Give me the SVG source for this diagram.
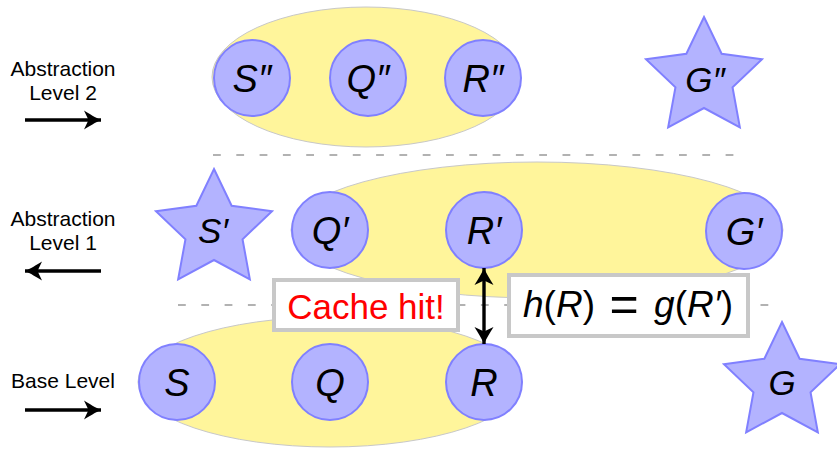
<svg xmlns="http://www.w3.org/2000/svg" width="837" height="449" viewBox="0 0 837 449">
<style>
.grp{fill:#fff59b;stroke:#c8c8c8;stroke-width:1}
.nd{fill:#b3b3ff;stroke:#8080ff;stroke-width:2}
.lbl{font-family:"Liberation Sans",Arial,sans-serif;font-style:italic;font-size:38px;fill:#000;text-anchor:middle}
.slbl{font-family:"Liberation Sans",Arial,sans-serif;font-style:italic;font-size:35px;fill:#000;text-anchor:middle}
.side{font-family:"Liberation Sans",Arial,sans-serif;font-size:21px;fill:#000;text-anchor:middle}
.dash{stroke:#999;stroke-width:1.3;stroke-dasharray:7.8 15.5;fill:none}
.arr{stroke:#000;stroke-width:3.4;fill:none}
.box{fill:#fff;stroke:#c8c8c8;stroke-width:4}
.math{font-family:"Liberation Sans",Arial,sans-serif;font-size:37px;fill:#000}
</style>
<defs>
<polygon id="star" points="0,-61 17.63,-24.27 58.02,-18.85 28.53,9.27 35.86,49.35 0,30 -35.86,49.35 -28.53,9.27 -58.02,-18.85 -17.63,-24.27"/>
<marker id="ah" viewBox="-18 -10 19 20" refX="0" refY="0" markerWidth="19" markerHeight="20" markerUnits="userSpaceOnUse" orient="auto-start-reverse">
<path d="M0,0 C-5,-2 -12,-6.5 -17,-9.5 L-12.5,0 L-17,9.5 C-12,6.5 -5,2 0,0 Z" fill="#000"/>
</marker>
</defs>

<g id="separators">
<line class="dash" x1="213" y1="155" x2="745" y2="155"/>
<line class="dash" x1="178" y1="305" x2="782" y2="305"/>
</g>

<g id="side-labels">
<text class="side" x="63" y="76">Abstraction</text>
<text class="side" x="63" y="100">Level 2</text>
<text class="side" x="63" y="226">Abstraction</text>
<text class="side" x="63" y="250">Level 1</text>
<text class="side" x="63" y="388">Base Level</text>
</g>

<g id="group-level2"><ellipse class="grp" cx="366" cy="77" rx="154" ry="70"/></g>
<g id="group-level1"><ellipse class="grp" cx="537" cy="230" rx="246" ry="68"/></g>
<g id="group-base"><ellipse class="grp" cx="330" cy="382" rx="192" ry="65"/></g>

<g id="S2"><circle class="nd" cx="252" cy="78" r="38"/><text class="lbl" x="252" y="92">S″</text></g>
<g id="Q2"><circle class="nd" cx="368" cy="78" r="38"/><text class="lbl" x="368" y="92">Q″</text></g>
<g id="R2"><circle class="nd" cx="483" cy="78" r="38"/><text class="lbl" x="483" y="92">R″</text></g>
<g id="G2"><use href="#star" class="nd" transform="translate(704,78)"/><text class="slbl" x="705" y="92">G″</text></g>

<g id="S1"><use href="#star" class="nd" transform="translate(214,230)"/><text class="slbl" x="213" y="243">S′</text></g>
<g id="Q1"><circle class="nd" cx="330" cy="230" r="38"/><text class="lbl" x="330" y="244">Q′</text></g>
<g id="R1"><circle class="nd" cx="484" cy="230" r="38"/><text class="lbl" x="484" y="244">R′</text></g>
<g id="G1"><circle class="nd" cx="744" cy="231" r="38"/><text class="lbl" x="744" y="245">G′</text></g>

<g id="S"><circle class="nd" cx="177" cy="382" r="38"/><text class="lbl" x="177" y="396">S</text></g>
<g id="Q"><circle class="nd" cx="330" cy="382" r="38"/><text class="lbl" x="330" y="396">Q</text></g>
<g id="R"><circle class="nd" cx="484" cy="382" r="38"/><text class="lbl" x="484" y="396">R</text></g>
<g id="G"><use href="#star" class="nd" transform="translate(782,383)"/><text class="slbl" x="782" y="395">G</text></g>

<g id="connectors">
<line class="arr" x1="25" y1="120" x2="101" y2="120" marker-end="url(#ah)"/>
<line class="arr" x1="101" y1="271" x2="25" y2="271" marker-end="url(#ah)"/>
<line class="arr" x1="25" y1="410" x2="101" y2="410" marker-end="url(#ah)"/>
<line class="arr" x1="484" y1="268" x2="484" y2="344" marker-start="url(#ah)" marker-end="url(#ah)"/>
</g>

<g id="cache-hit">
<rect class="box" x="274" y="280" width="184" height="50"/>
<text x="366" y="319" font-family="'Liberation Sans',Arial,sans-serif" font-size="35" fill="#ff0000" text-anchor="middle">Cache hit!</text>
</g>

<g id="equation">
<rect class="box" x="509" y="275" width="239" height="61"/>
<text class="math" x="523" y="317"><tspan font-style="italic">h</tspan>(<tspan font-style="italic">R</tspan>)</text>
<text class="math" x="624" y="321" text-anchor="middle" style="font-size:50px">=</text>
<text class="math" x="733" y="317" text-anchor="end"><tspan font-style="italic">g</tspan>(<tspan font-style="italic">R′</tspan>)</text>
</g>
</svg>
